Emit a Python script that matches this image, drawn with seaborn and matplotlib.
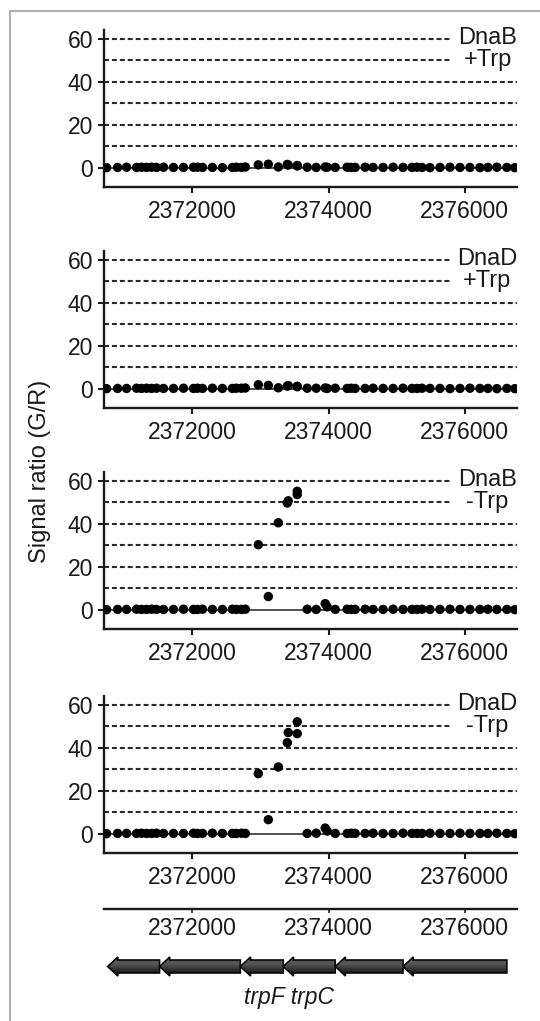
import numpy as np
import pandas as pd
import matplotlib
matplotlib.use("Agg")
import matplotlib.pyplot as plt
import seaborn as sns
from matplotlib.patches import Polygon
from matplotlib.lines import Line2D

sns.set_style("ticks")
plt.rcParams['font.family'] = ['Liberation Sans', 'DejaVu Sans']

# === DATA: probe positions (bp) and signal ratios (G/R) ===
probe_pos = [
    2370738, 2370900, 2371032, 2371179, 2371252, 2371325, 2371399, 2371472, 2371575, 2371721,
    2371868, 2372015, 2372073, 2372147, 2372293, 2372440, 2372587, 2372645, 2372719, 2372777,
    2372968, 2373115, 2373262, 2373394, 2373408, 2373540, 2373540,
    2373687, 2373819, 2373951, 2373980, 2374098, 2374274, 2374333, 2374391, 2374538, 2374655,
    2374802, 2374949, 2375095, 2375227, 2375301, 2375374, 2375491, 2375638, 2375785, 2375932,
    2376078, 2376225, 2376342, 2376474, 2376621, 2376738]

dnab_plus = [
    0.0, 0.1, 0.2, 0.1, 0.2, 0.1, 0.2, 0.1, 0.2, 0.1,
    0.1, 0.2, 0.2, 0.1, 0.1, 0.0, 0.1, 0.2, 0.1, 0.3,
    1.3, 1.6, 0.3, 1.5, 1.2, 1.0, 0.8,
    0.2, 0.1, 0.3, 0.2, 0.1, 0.2, 0.1, 0.1, 0.2, 0.1,
    0.1, 0.2, 0.1, 0.1, 0.2, 0.1, 0.0, 0.1, 0.2, 0.1,
    0.1, 0.0, 0.1, 0.2, 0.1, 0.0]

dnad_plus = [
    0.0, 0.1, 0.1, 0.2, 0.1, 0.2, 0.1, 0.2, 0.1, 0.1,
    0.2, 0.1, 0.2, 0.1, 0.2, 0.1, 0.1, 0.2, 0.2, 0.3,
    1.8, 1.5, 0.4, 1.2, 1.4, 1.1, 0.9,
    0.2, 0.2, 0.3, 0.1, 0.2, 0.1, 0.2, 0.1, 0.1, 0.2,
    0.1, 0.1, 0.2, 0.1, 0.1, 0.2, 0.1, 0.1, 0.0, 0.1,
    0.2, 0.1, 0.1, 0.0, 0.1, 0.0]

dnab_minus = [
    0.0, 0.1, 0.1, 0.2, 0.1, 0.1, 0.2, 0.1, 0.1, 0.1,
    0.2, 0.1, 0.1, 0.2, 0.1, 0.1, 0.2, 0.1, 0.1, 0.2,
    30.2, 6.1, 40.4, 49.6, 50.6, 55.0, 53.5,
    0.2, 0.1, 2.8, 1.3, 0.1, 0.2, 0.1, 0.1, 0.2, 0.1,
    0.1, 0.2, 0.1, 0.1, 0.1, 0.2, 0.1, 0.1, 0.2, 0.1,
    0.1, 0.1, 0.2, 0.1, 0.1, 0.0]

dnad_minus = [
    0.0, 0.1, 0.1, 0.1, 0.2, 0.1, 0.1, 0.2, 0.1, 0.1,
    0.1, 0.2, 0.1, 0.1, 0.2, 0.1, 0.1, 0.1, 0.2, 0.1,
    27.9, 6.5, 31.0, 42.3, 47.0, 52.0, 46.5,
    0.1, 0.2, 2.6, 1.2, 0.1, 0.1, 0.2, 0.1, 0.1, 0.2,
    0.1, 0.1, 0.2, 0.1, 0.1, 0.1, 0.2, 0.1, 0.1, 0.2,
    0.1, 0.1, 0.1, 0.2, 0.1, 0.0]

panel_labels = ["DnaB\n+Trp", "DnaD\n+Trp", "DnaB\n-Trp", "DnaD\n-Trp"]
panel_values = [dnab_plus, dnad_plus, dnab_minus, dnad_minus]

x_ticks = [2372000, 2374000, 2376000]
y_ticks = [0, 20, 40, 60]
grid_levels = [10, 20, 30, 40, 50, 60]

# trp operon genes (drawn right-to-left), start/end in bp
gene_start = [2370753, 2371516, 2372704, 2373335, 2374098, 2375095]
gene_end = [2371516, 2372704, 2373335, 2374098, 2375095, 2376621]
gene_text = "trpF trpC"
gene_text_pos = 2373423

XLIM = (2370700, 2376770)
YLIM = (-9, 64)
FS = 16.5

# === FIGURE ===
W, H = 540, 1021
fig = plt.figure(figsize=(W / 100, H / 100), dpi=100)


def fy(px):
    return 1 - px / H


L = 104 / W
AW = 413 / W
panel_px = [(30, 187), (251, 408), (472, 629), (696, 853)]

for (top, bot), label, vals in zip(panel_px, panel_labels, panel_values):
    ax = fig.add_axes([L, fy(bot), AW, (bot - top) / H])
    df = pd.DataFrame({"pos": probe_pos, "ratio": vals})
    for lv in grid_levels:
        ax.axhline(lv, ls=(0, (2.4, 1.4)), lw=1.5, color="#2a2a2a", zorder=1)
    ax.axhline(0, lw=1.1, color="#222222", zorder=1)
    sns.scatterplot(data=df, x="pos", y="ratio", ax=ax, color="black",
                    s=46, edgecolor="none", zorder=3, legend=False)
    ax.set_xlim(*XLIM)
    ax.set_ylim(*YLIM)
    ax.set_xticks(x_ticks)
    ax.set_yticks(y_ticks)
    ax.set_xticklabels([str(t) for t in x_ticks])
    ax.set_xlabel("")
    ax.set_ylabel("")
    sns.despine(ax=ax)
    for sp in ["left", "bottom"]:
        ax.spines[sp].set_linewidth(1.7)
        ax.spines[sp].set_color("#1a1a1a")
    ax.tick_params(axis="both", direction="out", length=4, width=1.5,
                   labelsize=FS, color="#1a1a1a", labelcolor="#1a1a1a")
    ax.tick_params(axis="x", pad=5)
    ax.tick_params(axis="y", pad=4)
    ax.text(XLIM[1], 55, label, ha="right", va="center", multialignment="center",
            fontsize=17, linespacing=1.0, color="#1a1a1a", zorder=4,
            bbox=dict(facecolor="white", edgecolor="none", pad=4))

# ruler for the gene track
ax_r = fig.add_axes([L, fy(909), AW, 0.001])
ax_r.set_xlim(*XLIM)
ax_r.set_xticks(x_ticks)
ax_r.set_xticklabels([str(t) for t in x_ticks])
ax_r.set_yticks([])
sns.despine(ax=ax_r, left=True)
ax_r.spines["bottom"].set_linewidth(1.7)
ax_r.spines["bottom"].set_color("#1a1a1a")
ax_r.tick_params(axis="x", direction="out", length=3, width=1.2,
                 labelsize=FS, pad=3, color="#1a1a1a", labelcolor="#1a1a1a")

# gene arrows
ax_g = fig.add_axes([L, fy(1008), AW, 58 / H])
ax_g.axis("off")
yc, body, head = 41.5, 6.5, 9.5
head_len = 150
grad = np.array([[0.08], [0.12], [0.18], [0.25], [0.32], [0.36], [0.30], [0.20]])
for s, e in zip(gene_start, gene_end):
    verts = [(s, yc), (s + head_len, yc + head), (s + head_len, yc + body), (e, yc + body),
             (e, yc - body), (s + head_len, yc - body), (s + head_len, yc - head)]
    poly = Polygon(verts, closed=True, facecolor="none", edgecolor="#0a0a0a", lw=1.2, zorder=3)
    ax_g.add_patch(poly)
    im = ax_g.imshow(grad, extent=(s, e, yc - head, yc + head), origin="lower",
                     aspect="auto", cmap="gray", vmin=0, vmax=1,
                     interpolation="bicubic", zorder=2)
    im.set_clip_path(poly)
ax_g.text(gene_text_pos, 11, gene_text, ha="center", va="center", fontsize=FS,
          style="italic", color="#1a1a1a")
ax_g.set_xlim(*XLIM)
ax_g.set_ylim(0, 58)

fig.text(40 / W, fy(471), "Signal ratio (G/R)", rotation=90, ha="center", va="center",
         fontsize=17, color="#1a1a1a")

# thin grey frame (left and top edges visible)
fig.add_artist(Line2D([10 / W, 10 / W], [0, fy(11)], transform=fig.transFigure,
                      color="#b0b0b0", lw=1.5))
fig.add_artist(Line2D([10 / W, 1], [fy(11), fy(11)], transform=fig.transFigure,
                      color="#b0b0b0", lw=1.5))

fig.savefig("out.png", dpi=100)
